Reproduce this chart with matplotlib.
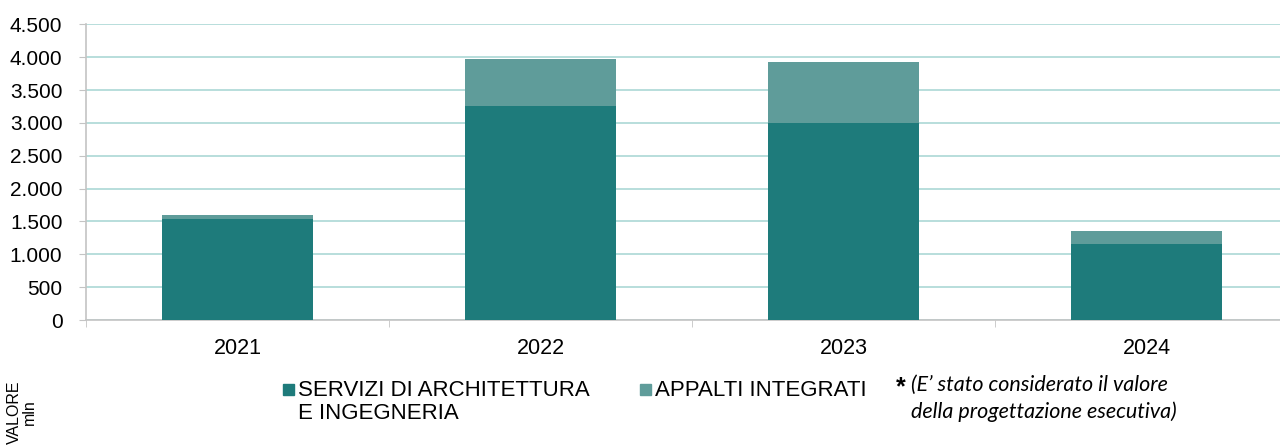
import matplotlib
matplotlib.use("Agg")
import matplotlib.pyplot as plt
from matplotlib.patches import Rectangle
from matplotlib.ticker import FuncFormatter, FixedLocator

# -----------------------
# Data (milioni di euro)
# -----------------------
years = ["2021", "2022", "2023", "2024"]
servizi = [1535, 3260, 3000, 1160]
appalti = [65, 710, 920, 200]

label_servizi = "SERVIZI DI ARCHITETTURA\nE INGEGNERIA"
label_appalti = "APPALTI INTEGRATI"
note = "(E\u2019 stato considerato il valore\ndella progettazione esecutiva)"

DARK = "#1e7b7b"
LIGHT = "#5f9c9a"
GRID = "#acd8d6"
AXIS = "#c4c4c4"

plt.rcParams["font.family"] = ["Liberation Sans", "DejaVu Sans"]

fig = plt.figure(figsize=(12.8, 4.45), dpi=100)
ax = fig.add_axes([86 / 1280, 1 - 320 / 445, 1 - 86 / 1280, (320 - 24.3) / 445])

x = list(range(len(years)))
ax.bar(x, servizi, width=0.5, color=DARK, zorder=3)
ax.bar(x, appalti, width=0.5, bottom=servizi, color=LIGHT, zorder=3)

ax.set_ylim(0, 4500)
ax.set_xlim(-0.5, (1280 - 86) / 303 - 0.5)
ax.set_yticks(range(0, 4501, 500))
ax.yaxis.set_major_formatter(FuncFormatter(lambda v, p: f"{int(v):,}".replace(",", ".")))
ax.grid(axis="y", color=GRID, linewidth=1.2, zorder=0)

# category labels without ticks, tick marks between categories
ax.set_xticks(x)
ax.set_xticklabels(years, fontsize=15.5)
ax.tick_params(axis="x", length=0, pad=13)
ax.xaxis.set_minor_locator(FixedLocator([-0.5, 0.5, 1.5, 2.5, 3.5]))
ax.tick_params(axis="x", which="minor", length=5, color=AXIS, direction="out")
ax.tick_params(axis="y", length=5, color=AXIS, labelsize=15, pad=12)

for s in ["top", "right"]:
    ax.spines[s].set_visible(False)
for s in ["left", "bottom"]:
    ax.spines[s].set_color(AXIS)
    ax.spines[s].set_linewidth(1.2)

# -----------------------
# Legend (drawn by hand)
# -----------------------
W, H = 1280, 445
fig.patches.append(Rectangle((283 / W, 1 - 395 / H), 11 / W, 11 / H,
                             transform=fig.transFigure, color=DARK))
fig.text(298 / W, 1 - 380 / H, label_servizi, fontsize=16, va="top",
         linespacing=1.1)
fig.patches.append(Rectangle((640 / W, 1 - 395 / H), 11 / W, 11 / H,
                             transform=fig.transFigure, color=LIGHT))
fig.text(655 / W, 1 - 380 / H, label_appalti, fontsize=16, va="top")
fig.text(896 / W, 1 - 375 / H, "*", fontsize=18, va="top", fontweight="bold")
fig.text(911 / W, 1 - 375 / H, note, fontsize=15.5, va="top", style="italic",
         family=["Lato", "DejaVu Sans"], linespacing=1.4)

fig.text(22 / W, 1 - 412 / H, "VALORE\nmln", fontsize=11.5, rotation=90,
         ha="center", va="center", multialignment="center", linespacing=1.0)

fig.savefig("out.png", dpi=100)
